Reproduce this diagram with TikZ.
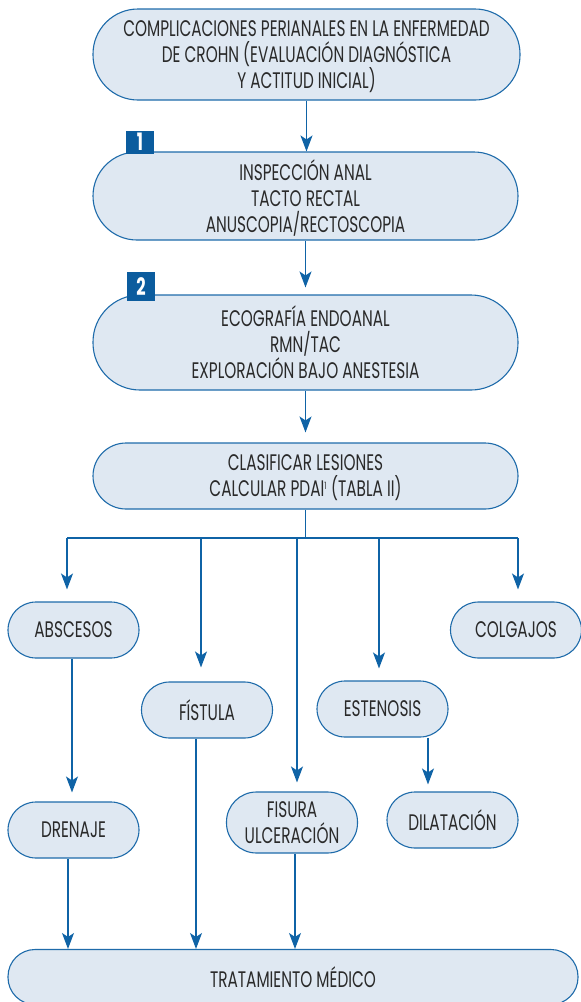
\documentclass[tikz,border=0pt]{standalone}
\usepackage{fontspec}
\setmainfont{Poppins}[FakeStretch=0.68]
\usetikzlibrary{arrows.meta}
\definecolor{fillc}{HTML}{DFE8F2}
\definecolor{linec}{HTML}{1E6BAA}
\definecolor{arrc}{HTML}{0F63A6}
\definecolor{badgec}{HTML}{0B5C9E}
\definecolor{txtc}{HTML}{2A2A2A}
\begin{document}
\begin{tikzpicture}[x=1pt,y=-1pt,
  box/.style={draw=linec, fill=fillc, line width=1.1pt, inner sep=0pt, text=txtc,
    align=center, font=\fontsize{22.5}{26}\selectfont},
  big/.style={box, minimum width=425pt, text depth=0pt},
  small/.style={box, minimum width=131pt, minimum height=56pt, rounded corners=28pt},
  badge/.style={fill=badgec, text=white, inner sep=0pt, font=\fontsize{24}{24}\selectfont\bfseries},
  ln/.style={draw=arrc, line width=1.2pt},
  arr/.style={ln, -{Stealth[length=16pt,width=12pt,inset=4pt]}}]
\useasboundingbox (0,0) rectangle (581,1002);

% main column
\node[big, minimum width=427pt, minimum height=91pt, rounded corners=45pt] (top) at (306.5,54.5)
  {COMPLICACIONES PERIANALES EN LA ENFERMEDAD\\DE CROHN (EVALUACIÓN DIAGNÓSTICA\\Y ACTITUD INICIAL)};
\node[big, minimum height=88pt, rounded corners=44pt] (n1) at (305.5,196)
  {INSPECCIÓN ANAL\\TACTO RECTAL\\ANUSCOPIA/RECTOSCOPIA};
\node[big, minimum height=95pt, rounded corners=47pt] (n2) at (305.5,342.5)
  {ECOGRAFÍA ENDOANAL\\RMN/TAC\\EXPLORACIÓN BAJO ANESTESIA};
\node[big, minimum height=66pt, rounded corners=33pt] (n3) at (305.5,476)
  {CLASIFICAR LESIONES\\CALCULAR PDAI\textsuperscript{\fontsize{10}{10}\selectfont 1} (TABLA II)};

\node[badge, minimum width=28pt, minimum height=23pt] (b1) at (140,142) {1};
\node[badge, minimum width=28pt, minimum height=29pt] (b2) at (141,286.5) {2};

% branches
\node[small] (abs) at (73.5,630) {ABSCESOS};
\node[small] (col) at (516,630) {COLGAJOS};
\node[small] (fis) at (207,710) {FÍSTULA};
\node[small] (est) at (382.5,709) {ESTENOSIS};
\node[small] (dre) at (73.5,830) {DRENAJE};
\node[small, minimum height=61pt, rounded corners=30pt, text depth=0pt] (fsu) at (292,822.5) {FISURA\\ULCERACIÓN};
\node[small] (dil) at (452.5,820) {DILATACIÓN};
\node[box, minimum width=570pt, minimum height=55pt, rounded corners=27pt] (trt) at (293,977)
  {TRATAMIENTO MÉDICO};

% connectors
\draw[arr] (top.south) -- (top.south |- n1.north);
\draw[arr, shorten >=7pt] (n1.south) -- (n1.south |- n2.north);
\draw[arr, shorten >=10pt] (n2.south) -- (n2.south |- n3.north);

\coordinate (bar) at (307,538);
\coordinate (bA) at (67,538);
\coordinate (bF) at (201,538);
\coordinate (bU) at (297,538);
\coordinate (bS) at (379,538);
\coordinate (bC) at (518,538);
\draw[ln] (n3.south) -- (n3.south |- bar);
\draw[ln] (bA) -- (bC);
\draw[arr, shorten >=12pt] (bA) -- (bA |- abs.north);
\draw[arr, shorten >=14pt] (bF) -- (bF |- fis.north);
\draw[arr, shorten >=9pt] (bU) -- (bU |- fsu.north);
\draw[arr, shorten >=12pt] (bS) -- (bS |- est.north);
\draw[arr, shorten >=12pt] (bC) -- (bC |- col.north);

\coordinate (xa) at (72,0);
\coordinate (xd) at (68,0);
\coordinate (xf) at (196,0);
\coordinate (xu) at (295,0);
\coordinate (xs) at (428,0);
\draw[arr, shorten >=9pt] (xa |- abs.south) -- (xa |- dre.north);
\draw[arr] (xd |- dre.south) -- (xd |- trt.north);
\draw[arr] (xf |- fis.south) -- (xf |- trt.north);
\draw[arr] (xu |- fsu.south) -- (xu |- trt.north);
\draw[arr, shorten >=7pt] (xs |- est.south) -- (xs |- dil.north);
\end{tikzpicture}
\end{document}
